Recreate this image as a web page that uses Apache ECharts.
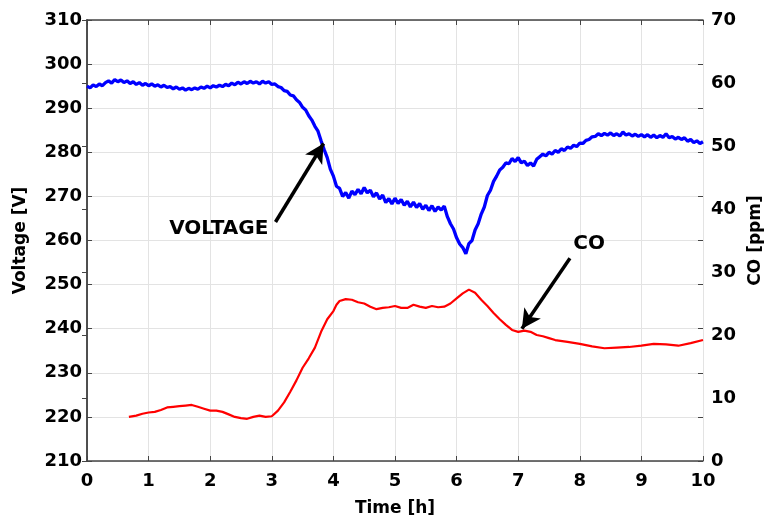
<!DOCTYPE html>
<html><head><meta charset="utf-8">
<script src="https://cdn.jsdelivr.net/npm/echarts@6/dist/echarts.min.js"></script>
<style>html,body{margin:0;padding:0;background:#fff}#c{width:765px;height:520px}</style>
</head><body><div id="c"></div>
<script>
var xTicks = [0,1,2,3,4,5,6,7,8,9,10];
var voltTicks = [210,220,230,240,250,260,270,280,290,300,310];
var coTicks = [0,10,20,30,40,50,60,70];

var voltTime = [0.00,0.05,0.10,0.15,0.20,0.25,0.30,0.35,0.40,0.45,0.50,0.55,0.60,0.65,0.70,0.75,0.80,0.85,0.90,0.95,
1.00,1.05,1.10,1.15,1.20,1.25,1.30,1.35,1.40,1.45,1.50,1.55,1.60,1.65,1.70,1.75,1.80,1.85,1.90,1.95,
2.00,2.05,2.10,2.15,2.20,2.25,2.30,2.35,2.40,2.45,2.50,2.55,2.60,2.65,2.70,2.75,2.80,2.85,2.90,2.95,
3.00,3.05,3.10,3.15,3.20,3.25,3.30,3.35,3.40,3.45,3.50,3.55,3.60,3.65,3.70,3.75,3.80,3.85,3.90,3.95,
4.00,4.05,4.10,4.15,4.20,4.25,4.30,4.35,4.40,4.45,4.50,4.55,4.60,4.65,4.70,4.75,4.80,4.85,4.90,4.95,
5.00,5.05,5.10,5.15,5.20,5.25,5.30,5.35,5.40,5.45,5.50,5.55,5.60,5.65,5.70,5.75,5.80,5.85,5.90,5.95,
6.00,6.05,6.10,6.15,6.20,6.25,6.30,6.35,6.40,6.45,6.50,6.55,6.60,6.65,6.70,6.75,6.80,6.85,6.90,6.95,
7.00,7.05,7.10,7.15,7.20,7.25,7.30,7.35,7.40,7.45,7.50,7.55,7.60,7.65,7.70,7.75,7.80,7.85,7.90,7.95,
8.00,8.05,8.10,8.15,8.20,8.25,8.30,8.35,8.40,8.45,8.50,8.55,8.60,8.65,8.70,8.75,8.80,8.85,8.90,8.95,
9.00,9.05,9.10,9.15,9.20,9.25,9.30,9.35,9.40,9.45,9.50,9.55,9.60,9.65,9.70,9.75,9.80,9.85,9.90,9.95,10.00];

var voltValues = [295.0,294.6,295.3,294.9,295.5,295.1,295.8,296.2,295.7,296.5,296.0,296.4,295.8,296.2,295.6,296.0,295.4,295.8,295.2,295.6,
295.1,295.5,295.0,295.3,294.8,295.2,294.7,294.9,294.4,294.8,294.3,294.6,294.1,294.5,294.2,294.6,294.3,294.8,294.5,295.0,
294.6,295.1,294.8,295.2,294.9,295.4,295.1,295.7,295.3,295.9,295.5,296.0,295.6,296.1,295.7,296.0,295.5,296.1,295.7,296.0,
295.4,295.5,294.9,294.7,294.0,293.8,293.0,292.8,291.9,291.3,290.2,289.6,288.3,287.3,285.9,284.8,282.6,280.6,278.8,276.2,
274.6,272.3,271.8,270.0,270.9,269.6,271.2,270.4,271.6,270.6,272.0,270.8,271.4,269.9,270.8,269.4,270.3,268.6,269.5,268.3,
269.6,268.4,269.3,268.0,268.9,267.6,268.7,267.5,268.4,267.1,268.0,266.8,267.9,266.6,267.6,266.9,267.8,265.4,263.8,262.6,
260.6,259.2,258.4,257.0,259.3,260.0,262.4,263.8,266.0,267.6,270.2,271.4,273.4,274.6,276.0,276.6,277.6,277.4,278.6,277.9,
278.8,277.6,278.0,277.0,277.6,276.9,278.4,279.0,279.6,279.2,280.0,279.6,280.4,280.0,280.8,280.4,281.2,280.9,281.6,281.3,
282.1,282.0,282.7,282.9,283.5,283.6,284.2,283.8,284.3,283.9,284.4,283.8,284.2,283.7,284.6,283.9,284.2,283.7,284.1,283.6,
284.0,283.5,284.0,283.4,283.9,283.3,283.8,283.4,284.2,283.3,283.6,283.0,283.4,282.9,283.3,282.5,282.9,282.2,282.6,282.0,282.4];

var coTime = [0.68,0.8,0.9,1.0,1.1,1.2,1.3,1.4,1.5,1.6,1.7,1.8,1.9,2.0,2.1,2.2,2.3,2.4,2.5,2.6,2.7,2.8,2.9,3.0,
3.1,3.2,3.3,3.4,3.5,3.6,3.7,3.8,3.9,4.0,4.05,4.1,4.2,4.3,4.4,4.5,4.6,4.7,4.8,4.9,5.0,5.1,5.2,5.3,5.4,5.5,5.6,5.7,5.8,5.9,
6.0,6.1,6.2,6.3,6.4,6.5,6.6,6.7,6.8,6.9,7.0,7.1,7.2,7.3,7.4,7.5,7.6,7.8,8.0,8.2,8.4,8.6,8.8,9.0,9.2,9.4,9.6,9.8,10.0];
var coValues = [7.0,7.2,7.5,7.7,7.8,8.1,8.5,8.6,8.7,8.8,8.9,8.6,8.3,8.0,8.0,7.8,7.4,7.0,6.8,6.7,7.0,7.2,7.0,7.1,
8.0,9.3,11.0,12.8,14.8,16.3,18.0,20.5,22.5,23.8,24.8,25.4,25.7,25.6,25.2,25.0,24.5,24.1,24.3,24.4,24.6,24.3,24.3,24.8,24.5,24.3,24.6,24.4,24.5,25.0,
25.8,26.6,27.2,26.7,25.6,24.6,23.5,22.5,21.6,20.8,20.5,20.7,20.5,20.0,19.8,19.5,19.2,18.9,18.6,18.2,17.9,18.0,18.1,18.3,18.6,18.5,18.3,18.7,19.2];

var annoTexts = ['VOLTAGE','CO'];

var FONT = 'DejaVu Sans';
function pairs(a,b){var r=[];for(var i=0;i<a.length;i++)r.push([a[i],b[i]]);return r;}
var axisCol = '#444';
var gridCol = '#e3e3e3';
var lab = {fontFamily:FONT,fontWeight:'bold',fontSize:18,color:'#000'};

var chart = echarts.init(document.getElementById('c'),null,{renderer:'canvas'});
chart.setOption({
  animation:false,
  backgroundColor:'#fff',
  grid:{left:87,right:62,top:20,bottom:59,containLabel:false,outerBoundsMode:'none'},
  xAxis:[{
    type:'value',min:0,max:10,interval:1,position:'bottom',
    axisLine:{show:true,lineStyle:{color:axisCol,width:1.5}},
    axisTick:{show:true,inside:true,length:5,lineStyle:{color:axisCol}},
    axisLabel:Object.assign({margin:11,formatter:function(v){return xTicks.indexOf(v)>=0?String(v):'';}},lab),
    splitLine:{show:true,lineStyle:{color:gridCol,width:1}},
    name:'Time [h]',nameLocation:'middle',nameGap:39,
    nameTextStyle:{fontFamily:FONT,fontWeight:'bold',fontSize:17,color:'#000'}
  },{
    type:'value',min:0,max:10,interval:1,position:'top',
    axisLine:{show:true,lineStyle:{color:axisCol,width:1.5}},
    axisTick:{show:true,inside:true,length:5,lineStyle:{color:axisCol}},
    axisLabel:{show:false},splitLine:{show:false}
  }],
  yAxis:[{
    type:'value',min:210,max:310,interval:10,position:'left',
    axisLine:{show:true,lineStyle:{color:axisCol,width:1.5}},
    axisTick:{show:true,inside:true,length:5,lineStyle:{color:axisCol}},
    axisLabel:Object.assign({margin:5},lab),
    splitLine:{show:true,lineStyle:{color:gridCol,width:1}},
    name:'Voltage [V]',nameLocation:'middle',nameGap:58,nameRotate:90,
    nameTextStyle:{fontFamily:FONT,fontWeight:'bold',fontSize:17,color:'#000'}
  },{
    type:'value',min:0,max:70,interval:10,position:'right',
    axisLine:{show:true,lineStyle:{color:axisCol,width:1.5}},
    axisTick:{show:true,inside:true,length:5,lineStyle:{color:axisCol}},
    axisLabel:Object.assign({margin:8},lab),
    splitLine:{show:false},
    name:'CO [ppm]',nameLocation:'middle',nameGap:42,nameRotate:90,
    nameTextStyle:{fontFamily:FONT,fontWeight:'bold',fontSize:17,color:'#000'}
  },{
    type:'value',min:210,max:310,interval:10,position:'right',
    axisLine:{show:false},
    axisTick:{show:true,inside:true,length:5,lineStyle:{color:axisCol}},
    axisLabel:{show:false},splitLine:{show:false}
  }],
  series:[{
    type:'line',name:'Voltage',xAxisIndex:0,yAxisIndex:0,
    data:pairs(voltTime,voltValues),showSymbol:false,symbol:'none',
    lineStyle:{color:'#0000ff',width:3.3},
    markLine:{
      silent:true,symbol:['none','arrow'],symbolSize:[15,19],
      lineStyle:{color:'#000',width:3.5,type:'solid'},
      label:{show:false},
      data:[
        [{coord:[3.06,264.2]},{coord:[3.84,282.0]}],
        [{coord:[7.84,256.0]},{coord:[7.06,240.0]}]
      ]
    },
    markPoint:{
      silent:true,symbol:'circle',symbolSize:1,itemStyle:{color:'rgba(0,0,0,0)'},
      label:{show:true,position:'inside',fontFamily:FONT,fontWeight:'bold',fontSize:20,color:'#000',
        formatter:function(p){return p.name;}},
      data:[
        {name:annoTexts[0],coord:[2.14,262.6]},
        {name:annoTexts[1],coord:[8.15,259.2]}
      ]
    }
  },{
    type:'line',name:'CO',xAxisIndex:0,yAxisIndex:1,
    data:pairs(coTime,coValues),showSymbol:false,symbol:'none',
    lineStyle:{color:'#ff0000',width:2.2}
  }]
});
</script></body></html>
